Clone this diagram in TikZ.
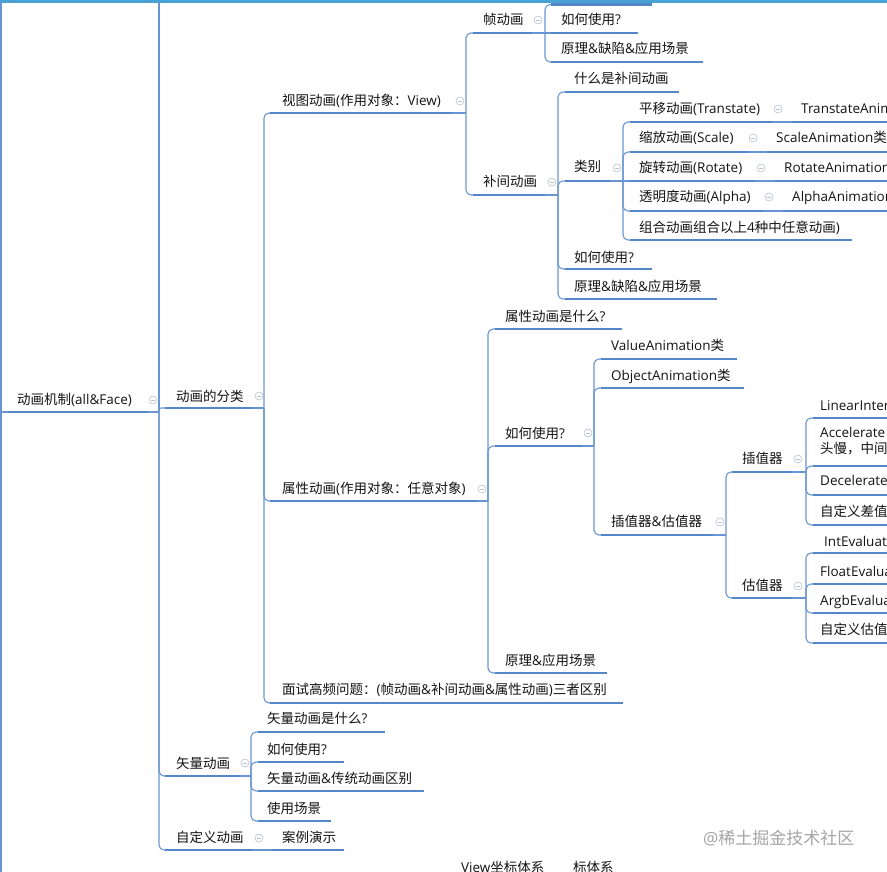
\documentclass[tikz,border=0pt]{standalone}
\usepackage{fontspec}
\setmainfont{Open Sans}
\newfontfamily\cjk{Noto Sans CJK SC}
\XeTeXinterchartokenstate=1
\newXeTeXintercharclass\CJKcls
\newcount\mycnt
\mycnt="3000 \loop\ifnum\mycnt<"3040 \XeTeXcharclass\mycnt=\CJKcls \advance\mycnt by 1 \repeat
\mycnt="4E00 \loop\ifnum\mycnt<"A000 \XeTeXcharclass\mycnt=\CJKcls \advance\mycnt by 1 \repeat
\mycnt="FF00 \loop\ifnum\mycnt<"FFF0 \XeTeXcharclass\mycnt=\CJKcls \advance\mycnt by 1 \repeat
\XeTeXinterchartoks 0 \CJKcls = {\cjk}
\XeTeXinterchartoks 4095 \CJKcls = {\cjk}
\XeTeXinterchartoks \CJKcls 0 = {\rmfamily}
\definecolor{ulc}{RGB}{84,135,200}
\definecolor{cnc}{RGB}{105,150,210}
\definecolor{ccol}{RGB}{185,192,205}
\definecolor{topc}{RGB}{72,162,212}
\definecolor{txc}{RGB}{20,20,20}
\definecolor{wmc}{RGB}{165,165,165}
\tikzset{
  txt/.style={inner sep=0pt, text=txc, font=\fontsize{13.5}{16}\selectfont},
  ul/.style={draw=ulc, line width=2.4pt},
  conn/.style={draw=cnc, line width=1.1pt, rounded corners=5pt},
  cc/.style={circle, draw=ccol, line width=0.6pt, minimum size=8pt, inner sep=0pt,
    path picture={\draw[ccol, line width=0.6pt] ([xshift=-2pt]path picture bounding box.center) -- ([xshift=2pt]path picture bounding box.center);}},
  wm/.style={inner sep=0pt, text=wmc, font=\fontsize{17}{20}\selectfont}
}
\newcommand\mmitem[7]{%
  \node[txt, anchor=base west] (#1) at (#2,#3+5) {#7};
  \coordinate (#1L) at (#4,#6);
  \coordinate (#1R) at (#5,#6);
  \draw[ul] (#1L) -- (#1R);}
\newcommand\mmstub[2]{\draw[conn] (#1R) -- (#2 |- #1R);}
\newcommand\mmconn[3]{\draw[conn] (#3 |- #1R) -- (#3 |- #2L) -- (#2L);}
\begin{document}
\begin{tikzpicture}[x=1pt,y=-1pt]
\useasboundingbox (0,0) rectangle (887,872);
\clip (0,0) rectangle (887,872);
\fill[white] (0,0) rectangle (887,872);
% spines
\coordinate (otop) at (0,-6);
\coordinate (lbT) at (1,-6);
\coordinate (lbB) at (1,880);
\coordinate (s0) at (159,0);
\coordinate (s1) at (264,0);
\coordinate (s2) at (251,0);
\coordinate (s3) at (466,0);
\coordinate (s4) at (488,0);
\coordinate (s5) at (545,0);
\coordinate (s6) at (558,0);
\coordinate (s7) at (623,0);
\coordinate (s8) at (594,0);
\coordinate (s9) at (726,0);
\coordinate (s10) at (806,0);
% items
\mmitem{root}{17}{399}{8}{147}{412}{动画机制(all\&Face)}
\mmitem{fl}{176}{396}{165}{252}{408}{动画的分类}
\mmitem{sl}{176}{763}{165}{239}{776}{矢量动画}
\mmitem{zd}{176}{837}{165}{252}{850}{自定义动画}
\mmitem{al}{282}{837}{272}{344}{850}{案例演示}
\mmitem{st}{282}{101}{270}{453}{113}{视图动画(作用对象：View)}
\mmitem{sx}{282}{488}{270}{477}{501}{属性动画(作用对象：任意对象)}
\mmitem{ms}{282}{689}{270}{623}{703}{面试高频问题：(帧动画\&补间动画\&属性动画)三者区别}
\mmitem{zh}{483}{20}{473}{532}{33}{帧动画}
\mmitem{bj}{483}{182}{473}{545}{195}{补间动画}
\coordinate (h1L) at (551,4.5);
\coordinate (h1R) at (652,4.5);
\draw[ul] (h1L) -- (h1R);
\mmitem{zh1}{561}{20}{551}{638}{33}{如何使用?}
\mmitem{zh2}{561}{49}{551}{703}{62}{原理\&缺陷\&应用场景}
\mmitem{bj1}{574}{79}{565}{679}{92}{什么是补间动画}
\mmitem{lb}{574}{167}{565}{610}{181}{类别}
\mmitem{bj3}{574}{257}{565}{652}{269}{如何使用?}
\mmitem{bj4}{574}{286}{565}{717}{299}{原理\&缺陷\&应用场景}
\mmitem{py}{639}{109}{630}{772}{122}{平移动画(Transtate)}
\mmitem{pyc}{801}{109}{792}{890}{122}{TranstateAnim}
\mmitem{sf}{639}{138}{630}{747}{152}{缩放动画(Scale)}
\mmitem{sfc}{776}{138}{767}{890}{152}{ScaleAnimation类}
\mmitem{xz}{639}{168}{630}{755}{181}{旋转动画(Rotate)}
\mmitem{xzc}{784}{168}{775}{890}{181}{RotateAnimation}
\mmitem{tm}{639}{197}{630}{763}{211}{透明度动画(Alpha)}
\mmitem{tmc}{792}{197}{783}{890}{211}{AlphaAnimation}
\mmitem{zhh}{639}{228}{630}{852}{240}{组合动画组合以上4种中任意动画)}
\mmitem{sx1}{505}{316}{495}{622}{329}{属性动画是什么?}
\mmitem{sx2}{505}{433}{495}{582}{446}{如何使用?}
\mmitem{sx3}{505}{660}{495}{607}{673}{原理\&应用场景}
\mmitem{va}{611}{345}{601}{737}{359}{ValueAnimation类}
\mmitem{oa}{611}{375}{601}{744}{388}{ObjectAnimation类}
\mmitem{cz}{611}{521}{601}{713}{535}{插值器\&估值器}
\mmitem{cq}{742}{458}{732}{792}{472}{插值器}
\mmitem{gz}{742}{585}{732}{792}{598}{估值器}
\mmitem{cq1}{820}{405}{813}{890}{418}{LinearInter}
\mmitem{cq2}{820}{432}{813}{890}{466}{Accelerate}
\node[txt, anchor=base west] (cq2b) at (820,453) {头慢，中间};
\mmitem{cq3}{820}{480}{813}{890}{495}{Decelerate}
\mmitem{cq4}{820}{511}{813}{890}{525}{自定义差值}
\mmitem{gz1}{824}{541}{813}{890}{553}{IntEvaluat}
\mmitem{gz2}{820}{571}{813}{890}{584}{FloatEvalua}
\mmitem{gz3}{820}{600}{813}{890}{613}{ArgbEvalua}
\mmitem{gz4}{820}{629}{813}{890}{643}{自定义估值}
\mmitem{sl1}{267}{718}{258}{385}{732}{矢量动画是什么?}
\mmitem{sl2}{267}{749}{258}{344}{762}{如何使用?}
\mmitem{sl3}{267}{778}{258}{424}{791}{矢量动画\&传统动画区别}
\mmitem{sl4}{267}{808}{258}{331}{821}{使用场景}
% connectors
\draw[conn, line width=1.5pt] (lbT) -- (lbB);
\draw[conn] (lbB |- rootL) -- (rootL);
\mmstub{root}{s0}
\draw[conn] (s0 |- rootR) -- (s0 |- otop);
\draw[conn, rounded corners=2pt] (s0 |- rootR) -- (s0 |- flL) -- (flL);
\mmconn{root}{sl}{s0}
\mmconn{root}{zd}{s0}
\draw[conn] (zdR) -- (alL);
\mmstub{fl}{s1}
\mmconn{fl}{st}{s1}
\mmconn{fl}{sx}{s1}
\mmconn{fl}{ms}{s1}
\mmstub{st}{s3}
\mmconn{st}{zh}{s3}
\mmconn{st}{bj}{s3}
\mmstub{zh}{s5}
\mmconn{zh}{h1}{s5}
\draw[conn] (s5 |- zhR) -- (zh1L);
\mmconn{zh}{zh2}{s5}
\mmstub{bj}{s6}
\mmconn{bj}{bj1}{s6}
\mmconn{bj}{lb}{s6}
\mmconn{bj}{bj3}{s6}
\mmconn{bj}{bj4}{s6}
\mmstub{lb}{s7}
\mmconn{lb}{py}{s7}
\mmconn{lb}{sf}{s7}
\draw[conn] (s7 |- lbR) -- (xzL);
\mmconn{lb}{tm}{s7}
\mmconn{lb}{zhh}{s7}
\draw[conn] (pyR) -- (pycL);
\draw[conn] (sfR) -- (sfcL);
\draw[conn] (xzR) -- (xzcL);
\draw[conn] (tmR) -- (tmcL);
\mmstub{sx}{s4}
\mmconn{sx}{sx1}{s4}
\mmconn{sx}{sx2}{s4}
\mmconn{sx}{sx3}{s4}
\mmstub{sx2}{s8}
\mmconn{sx2}{va}{s8}
\mmconn{sx2}{oa}{s8}
\mmconn{sx2}{cz}{s8}
\mmstub{cz}{s9}
\mmconn{cz}{cq}{s9}
\mmconn{cz}{gz}{s9}
\mmstub{cq}{s10}
\mmconn{cq}{cq1}{s10}
\mmconn{cq}{cq2}{s10}
\mmconn{cq}{cq3}{s10}
\mmconn{cq}{cq4}{s10}
\mmstub{gz}{s10}
\mmconn{gz}{gz1}{s10}
\mmconn{gz}{gz2}{s10}
\mmconn{gz}{gz3}{s10}
\mmconn{gz}{gz4}{s10}
\mmstub{sl}{s2}
\mmconn{sl}{sl1}{s2}
\mmconn{sl}{sl2}{s2}
\mmconn{sl}{sl3}{s2}
\mmconn{sl}{sl4}{s2}
% collapse circles
\node[cc] (c0) at (153,400) {};
\node[cc] (c1) at (259,396) {};
\node[cc] (c2) at (245,763) {};
\node[cc] (c3) at (259,838) {};
\node[cc] (c4) at (460,101) {};
\node[cc] (c5) at (482,489) {};
\node[cc] (c6) at (538,20) {};
\node[cc] (c7) at (552,182) {};
\node[cc] (c8) at (617,168) {};
\node[cc] (c9) at (778,109) {};
\node[cc] (c10) at (753,138) {};
\node[cc] (c11) at (761,168) {};
\node[cc] (c12) at (769,197) {};
\node[cc] (c13) at (588,433) {};
\node[cc] (c14) at (720,522) {};
\node[cc] (c15) at (798,459) {};
\node[cc] (c16) at (798,586) {};
% top bar
\fill[topc] (0,0) rectangle (887,3.2);
% bottom texts and watermark
\node[txt, anchor=base west] (b1) at (461,872) {View坐标体系};
\node[txt, anchor=base west] (b2) at (573,872) {标体系};
\node[wm, anchor=base west] (wmk) at (703,844.5) {@稀土掘金技术社区};
\end{tikzpicture}
\end{document}
